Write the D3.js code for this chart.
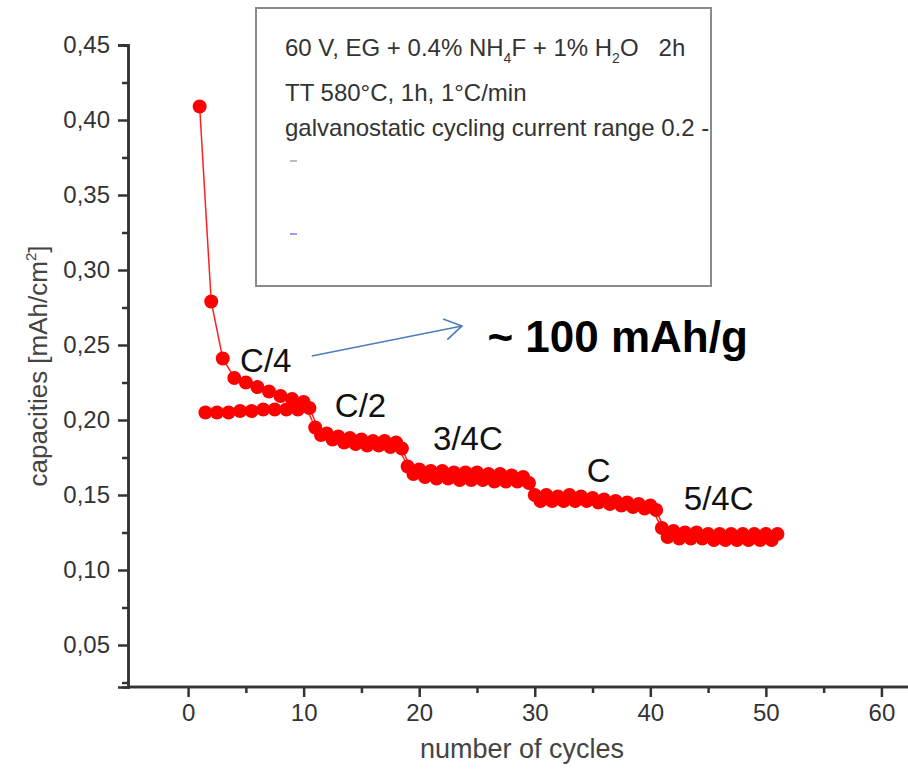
<!DOCTYPE html>
<html><head><meta charset="utf-8">
<script src="https://cdn.jsdelivr.net/npm/d3@7"></script>
<style>
body{margin:0;background:#fff}
svg{display:block}
text{font-family:"Liberation Sans",Arial,sans-serif}
</style>
</head><body>
<svg id="chart" width="908" height="770"></svg>
<script>
// ---- data ----
const cyclesA = d3.range(1, 52);
const capA = [0.409,0.279,0.241,0.228,0.225,0.222,0.219,0.216,0.214,0.212,
  0.195,0.191,0.189,0.188,0.187,0.186,0.186,0.185,
  0.169,0.167,0.166,0.166,0.165,0.165,0.165,0.164,0.164,0.163,0.162,
  0.150,0.150,0.149,0.150,0.149,0.148,0.147,0.146,0.145,0.144,0.143,
  0.128,0.126,0.125,0.125,0.124,0.124,0.124,0.124,0.124,0.124,0.124];
const cyclesB = [1.5,2.5,3.5,4.5,5.5,6.5,7.5,8.5,9.5,10.5,
  11.5,12.5,13.5,14.5,15.5,16.5,17.5,18.5,
  19.5,20.5,21.5,22.5,23.5,24.5,25.5,26.5,27.5,28.5,29.5,
  30.5,31.5,32.5,33.5,34.5,35.5,36.5,37.5,38.5,39.5,40.5,
  41.5,42.5,43.5,44.5,45.5,46.5,47.5,48.5,49.5,50.5];
const capB = [0.205,0.205,0.205,0.206,0.206,0.207,0.207,0.207,0.207,0.208,
  0.190,0.187,0.185,0.184,0.183,0.183,0.182,0.181,
  0.164,0.162,0.161,0.161,0.160,0.160,0.160,0.159,0.159,0.159,0.158,
  0.146,0.146,0.146,0.146,0.146,0.145,0.144,0.143,0.142,0.141,0.140,
  0.122,0.121,0.121,0.121,0.120,0.120,0.120,0.120,0.120,0.120];
const xTicks = [0,10,20,30,40,50,60];
const xMinor = [5,15,25,35,45,55];
const yTicks = [0.05,0.10,0.15,0.20,0.25,0.30,0.35,0.40,0.45];
const yMinor = [0.025,0.075,0.125,0.175,0.225,0.275,0.325,0.375,0.425];
const rateLabels = ["C/4","C/2","3/4C","C","5/4C"];
const rateX = [4.5,12.7,21.2,34.5,42.9];
const rateY = [0.232,0.202,0.180,0.1587,0.140];
const xTitle = "number of cycles";
const yTitleMain = "capacities [mAh/cm";
const arrowFrom = [10.7, 0.2427];
const arrowTo = [23.7, 0.2627];
const noteText = "~ 100 mAh/g";
const notePos = [25.9, 0.2453];

// ---- scales ----
const svg = d3.select("#chart");
const x = d3.scaleLinear().domain([-5.2, 62.3]).range([128, 908]);
const y = d3.scaleLinear().domain([0.022, 0.45]).range([687, 45]);
const axisColor = "#333";

// legend box
const box = svg.append("g");
box.append("rect").attr("x",256).attr("y",8).attr("width",455).attr("height",278)
  .attr("fill","#fff").attr("stroke","#8a8a8a").attr("stroke-width",2);
const l1 = box.append("text").attr("x",285).attr("y",56).attr("font-size",24).attr("fill","#333")
  .style("white-space","pre");
l1.append("tspan").text("60 V, EG + 0.4% NH");
l1.append("tspan").attr("font-size",14).attr("dy",7).text("4");
l1.append("tspan").attr("dy",-7).text("F + 1% H");
l1.append("tspan").attr("font-size",14).attr("dy",7).text("2");
l1.append("tspan").attr("dy",-7).text("O   2h");
box.append("text").attr("x",285).attr("y",101).attr("font-size",24).attr("fill","#333").text("TT 580°C, 1h, 1°C/min");
box.append("text").attr("x",285).attr("y",136).attr("font-size",24).attr("fill","#333").text("galvanostatic cycling current range 0.2 -");
box.append("line").attr("x1",290).attr("x2",297).attr("y1",161).attr("y2",161).attr("stroke","#bbb").attr("stroke-width",2);
box.append("line").attr("x1",290).attr("x2",297).attr("y1",234).attr("y2",234).attr("stroke","#99f").attr("stroke-width",2);

// axes
const gx = svg.append("g").attr("transform","translate(0,687)");
gx.call(d3.axisBottom(x).tickValues(xTicks).tickSize(10).tickPadding(7).tickFormat(d3.format("d")));
gx.append("g").call(d3.axisBottom(x).tickValues(xMinor).tickSize(6).tickFormat(""));
const gy = svg.append("g").attr("transform","translate(128,0)");
gy.call(d3.axisLeft(y).tickValues(yTicks).tickSize(10).tickPadding(8).tickFormat(d => d3.format(".2f")(d).replace(".", ",")));
gy.append("g").call(d3.axisLeft(y).tickValues(yMinor).tickSize(6).tickFormat(""));
[gx, gy].forEach(g => {
  g.selectAll(".domain").attr("stroke",axisColor).attr("stroke-width",2.5);
  g.selectAll(".tick line").attr("stroke",axisColor).attr("stroke-width",2.5);
  g.selectAll("text").attr("fill","#333").attr("font-size",24).attr("font-family","'Liberation Sans',Arial,sans-serif");
});
gx.selectAll(".domain").attr("d", `M128,0H908`);

// titles
svg.append("text").attr("x", x(28.9)).attr("y", 758).attr("text-anchor","middle")
  .attr("font-size",27).attr("fill","#444").text(xTitle);
const yt = svg.append("text").attr("transform",`translate(47,${y(0.236)}) rotate(-90)`).attr("text-anchor","middle")
  .attr("font-size",26).attr("fill","#444");
yt.append("tspan").text(yTitleMain);
yt.append("tspan").attr("font-size",15).attr("dy",-11).text("2");
yt.append("tspan").attr("dy",11).text("]");

// data
const line = d3.line().x(d => x(d[0])).y(d => y(d[1]));
const dA = cyclesA.map((c,i) => [c, capA[i]]);
const dB = cyclesB.map((c,i) => [c, capB[i]]);
[dA, dB].forEach(d => {
  svg.append("path").datum(d).attr("d", line).attr("fill","none").attr("stroke","#ff2020").attr("stroke-width",1.5);
});
[dB, dA].forEach(d => {
  svg.append("g").selectAll("circle").data(d).join("circle")
    .attr("cx", p => x(p[0])).attr("cy", p => y(p[1])).attr("r", 7).attr("fill","#ff0000");
});

// rate labels
svg.append("g").selectAll("text").data(rateLabels).join("text")
  .attr("x", (d,i) => x(rateX[i])).attr("y", (d,i) => y(rateY[i]))
  .attr("font-size",33).attr("fill","#111").text(d => d);

// arrow
const ax1 = x(arrowFrom[0]), ay1 = y(arrowFrom[1]), ax2 = x(arrowTo[0]), ay2 = y(arrowTo[1]);
const ang = Math.atan2(ay2-ay1, ax2-ax1);
const ah = 20, spread = 0.55;
svg.append("line").attr("x1",ax1).attr("y1",ay1).attr("x2",ax2).attr("y2",ay2)
  .attr("stroke","#4a7ebb").attr("stroke-width",1.6);
svg.append("path").attr("d",
  `M${ax2-ah*Math.cos(ang-spread)},${ay2-ah*Math.sin(ang-spread)}L${ax2},${ay2}L${ax2-ah*Math.cos(ang+spread)},${ay2-ah*Math.sin(ang+spread)}`)
  .attr("fill","none").attr("stroke","#4a7ebb").attr("stroke-width",1.6);
svg.append("text").attr("x", x(notePos[0])).attr("y", y(notePos[1]))
  .attr("font-size",44).attr("font-weight","bold").attr("fill","#000").text(noteText);
</script>
</body></html>
